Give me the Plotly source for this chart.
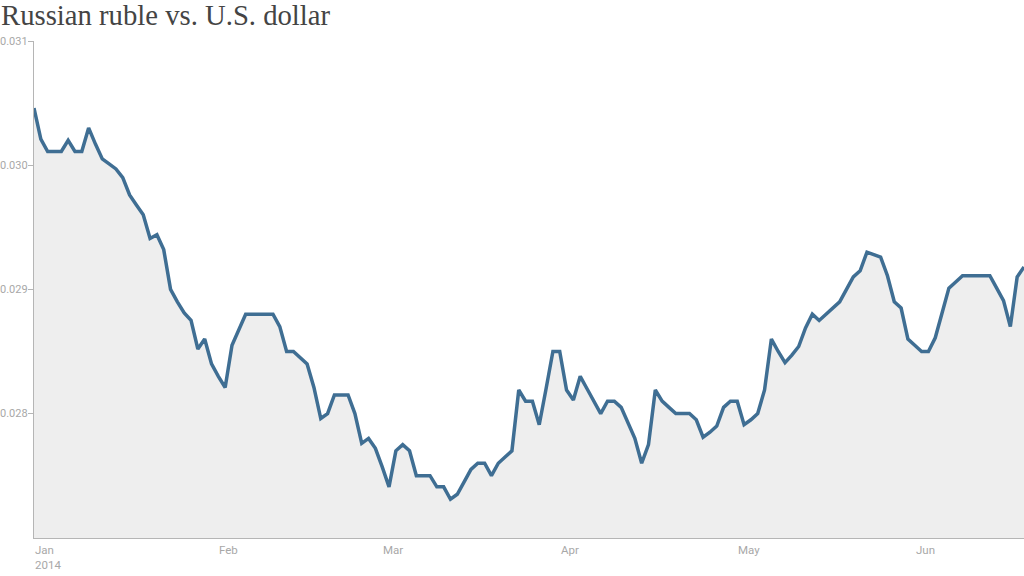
import plotly.graph_objects as go

# RUB -> USD exchange rate, one value per trading day (Jan - mid Jun 2014)
rate = [
    0.03046, 0.03021, 0.03011, 0.03011, 0.03011, 0.03020, 0.03011, 0.03011, 0.03030, 0.03017,
    0.03005, 0.03001, 0.02997, 0.02990, 0.02976, 0.02968, 0.02960, 0.02941, 0.02944, 0.02932,
    0.02900, 0.02890, 0.02881, 0.02875, 0.02852, 0.02860, 0.02840, 0.02830, 0.02821, 0.02855,
    0.02867, 0.02880, 0.02880, 0.02880, 0.02880, 0.02880, 0.02870, 0.02850, 0.02850, 0.02845,
    0.02840, 0.02821, 0.02796, 0.02800, 0.02815, 0.02815, 0.02815, 0.02800, 0.02776, 0.02780,
    0.02772, 0.02757, 0.02741, 0.02770, 0.02775, 0.02770, 0.02750, 0.02750, 0.02750, 0.02741,
    0.02741, 0.02731, 0.02735, 0.02745, 0.02755, 0.02760, 0.02760, 0.02750, 0.02760, 0.02765,
    0.02770, 0.02819, 0.02810, 0.02810, 0.02791, 0.02820, 0.02850, 0.02850, 0.02819, 0.02811,
    0.02830, 0.02820, 0.02810, 0.02800, 0.02810, 0.02810, 0.02805, 0.02792, 0.02780, 0.02760,
    0.02775, 0.02819, 0.02810, 0.02805, 0.02800, 0.02800, 0.02800, 0.02795, 0.02781, 0.02785,
    0.02790, 0.02805, 0.02810, 0.02810, 0.02791, 0.02795, 0.02800, 0.02819, 0.02860, 0.02850,
    0.02841, 0.02847, 0.02854, 0.02869, 0.02880, 0.02875, 0.02880, 0.02885, 0.02890, 0.02900,
    0.02910, 0.02915, 0.02930, 0.02928, 0.02926, 0.02911, 0.02890, 0.02885, 0.02860, 0.02855,
    0.02850, 0.02850, 0.02861, 0.02881, 0.02901, 0.02906, 0.02911, 0.02911, 0.02911, 0.02911,
    0.02911, 0.02901, 0.02891, 0.02870, 0.02910, 0.02918,
]
trading_day = list(range(len(rate)))

month_names = ["Jan", "Feb", "Mar", "Apr", "May", "Jun"]
month_first_day = [0, 27, 51, 77, 103, 129]
year_label = "2014"

y_ticks = [0.028, 0.029, 0.030, 0.031]
y_tick_text = ["0.028", "0.029", "0.030", "0.031"]

LABEL_FONT = "Liberation Sans Narrow, Roboto, Arial, sans-serif"
LABEL_COLOR = "#a8a8a8"

fig = go.Figure()
fig.add_trace(go.Scatter(
    x=trading_day, y=rate, mode="lines",
    line=dict(color="#3f6e93", width=3.5),
    fill="tozeroy", fillcolor="#eeeeee",
    hoverinfo="skip",
))

annotations = []
for i, (name, d) in enumerate(zip(month_names, month_first_day)):
    text = name + ("<br>" + year_label if i == 0 else "")
    annotations.append(dict(
        x=d, y=0, xref="x", yref="paper", text=text, showarrow=False,
        xanchor="left", yanchor="top", align="left", yshift=-3, xshift=-1,
        font=dict(family=LABEL_FONT, size=11.5, color=LABEL_COLOR),
    ))
for v, t in zip(y_ticks, y_tick_text):
    annotations.append(dict(
        x=0, y=v, xref="paper", yref="y", text=t, showarrow=False,
        xanchor="right", yanchor="middle", xshift=-5, borderpad=0,
        font=dict(family=LABEL_FONT, size=11, color=LABEL_COLOR),
    ))

fig.update_layout(
    width=1024, height=576,
    margin=dict(l=34, r=0, t=41, b=38, autoexpand=False),
    paper_bgcolor="white", plot_bgcolor="white",
    showlegend=False,
    title=dict(
        text="Russian ruble vs. U.S. dollar",
        font=dict(family="Liberation Serif, DejaVu Serif, serif", size=28.7, color="#444444"),
        xref="container", x=0.0, xanchor="left",
        yref="container", y=0.992, yanchor="top",
        pad=dict(l=1, t=0),
    ),
    xaxis=dict(
        range=[0, len(rate) - 1], showgrid=False, zeroline=False,
        showticklabels=False, ticks="", automargin=False,
        showline=True, linecolor="#b5b5b5", linewidth=1,
    ),
    yaxis=dict(
        range=[0.026998, 0.031], showgrid=False, zeroline=False,
        tickvals=y_ticks, showticklabels=False, automargin=False,
        ticks="outside", ticklen=5, tickcolor="#b5b5b5", tickwidth=1,
        showline=True, linecolor="#b5b5b5", linewidth=1,
    ),
    annotations=annotations,
)

fig.write_html(
    "out.html",
    config={"displayModeBar": False},
    post_script="document.body.style.margin='0';document.body.style.overflow='hidden';",
)
